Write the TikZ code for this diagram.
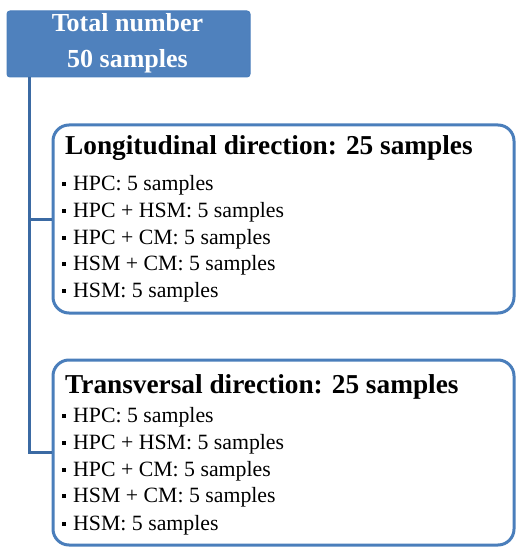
\documentclass[tikz,border=0pt]{standalone}
\usepackage{fontspec}
\setmainfont{Liberation Serif}
\definecolor{boxblue}{HTML}{4F81BD}
\definecolor{edgeblue}{HTML}{4A7EBB}
\definecolor{linkblue}{HTML}{3B6AA3}
\tikzset{
  headbox/.style={draw=edgeblue, fill=boxblue, line width=1pt, rounded corners=3pt,
    minimum width=243pt, minimum height=66pt, inner sep=0pt},
  groupbox/.style={draw=edgeblue, fill=white, line width=3pt, rounded corners=16pt,
    minimum width=461pt, inner sep=0pt},
  headtext/.style={text=white, font=\bfseries\fontsize{26}{28}\selectfont, inner sep=0pt, anchor=base},
  titletext/.style={font=\bfseries\fontsize{27.3}{29}\selectfont, inner sep=0pt, anchor=base west},
  itemtext/.style={font=\fontsize{21.8}{23}\selectfont, inner sep=0pt, anchor=base west},
  link/.style={draw=linkblue, line width=3pt}
}
\newcommand{\sqbullet}{\raisebox{4.5pt}{\rule{4pt}{4pt}}\hspace{7pt}}
\begin{document}
\begin{tikzpicture}[x=1pt,y=-1pt]
\useasboundingbox (0,0) rectangle (516,548);
% summary box
\node[headbox] (top) at (128.5,44) {};
\node[headtext] (t1) at (127.5,32) {Total number};
\node[headtext] (t2) at (127.5,68) {50 samples};
% the two groups
\node[groupbox, minimum height=188pt] (long) at (283.5,219) {};
\node[groupbox, minimum height=185pt] (trans) at (283.5,452.5) {};
% tree connectors
\coordinate (trunk) at ([xshift=23pt]top.south west);
\draw[link] (trunk) |- (long.west);
\draw[link] (trunk) |- (trans.west);
% longitudinal list
\node[titletext] (lt) at (65,155) {Longitudinal direction: 25 samples};
\node[itemtext] (l1) at (62,190.5) {\sqbullet HPC: 5 samples};
\node[itemtext] (l2) at (62,217) {\sqbullet HPC + HSM: 5 samples};
\node[itemtext] (l3) at (62,244) {\sqbullet HPC + CM: 5 samples};
\node[itemtext] (l4) at (62,270.5) {\sqbullet HSM + CM: 5 samples};
\node[itemtext] (l5) at (62,297) {\sqbullet HSM: 5 samples};
% transversal list
\node[titletext] (tt) at (65,393) {Transversal direction: 25 samples};
\node[itemtext] (r1) at (62,422.5) {\sqbullet HPC: 5 samples};
\node[itemtext] (r2) at (62,449) {\sqbullet HPC + HSM: 5 samples};
\node[itemtext] (r3) at (62,476) {\sqbullet HPC + CM: 5 samples};
\node[itemtext] (r4) at (62,502.5) {\sqbullet HSM + CM: 5 samples};
\node[itemtext] (r5) at (62,530) {\sqbullet HSM: 5 samples};
\end{tikzpicture}
\end{document}
